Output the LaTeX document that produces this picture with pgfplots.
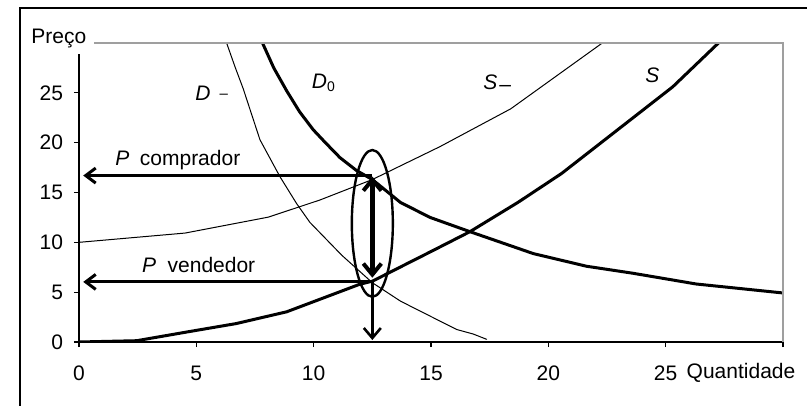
\documentclass[border=0pt]{standalone}
\usepackage{pgfplots}
\pgfplotsset{compat=1.18}
\usetikzlibrary{arrows.meta}
\usepackage{fontspec}
\setmainfont{Liberation Sans}

% Supply and demand schedules (Quantidade, Preco)
\pgfplotstableread{
q p
0 0
2.46 0.13
4.66 1.03
6.7 1.85
8.85 3.03
11.97 5.80
12.5 6.10
14.96 9.03
16.66 11.07
18.7 14.0
20.56 16.9
25.3 25.6
27.25 30.0
}\supplyS
\pgfplotstableread{
q p
0 10
4.52 10.93
8.07 12.53
10.27 14.25
12.5 16.3
15.38 19.6
18.4 23.4
22.3 30.0
}\supplyMinus
\pgfplotstableread{
q p
7.82 30.0
8.3 27.5
8.85 25.2
9.4 23.1
9.98 21.3
10.5 20.0
11.12 18.5
11.83 17.2
12.5 16.3
13.7 14.0
14.96 12.5
16.66 11.07
19.36 8.87
21.63 7.6
23.6 6.9
26.3 5.82
30 4.92
}\demandZero
\pgfplotstableread{
q p
6.29 30.0
6.65 27.6
7.0 25.4
7.71 20.3
8.56 16.6
9.27 13.9
9.84 12.0
11.2 8.7
12.5 5.95
13.7 4.1
14.96 2.6
16.1 1.25
16.8 0.8
17.37 0.27
}\demandMinus

\begin{document}
\begin{tikzpicture}
% canvas in pixel-like units
\begin{scope}[x=0.5pt,y=-0.5pt]
  \useasboundingbox (0,0) rectangle (807,406);
  \draw[black, line width=0.8pt] (20,406) -- (20,8) -- (807,8);
\end{scope}

\begin{axis}[
  name=ax,
  at={(39.5pt,-171pt)}, anchor=south west,
  scale only axis, width=352pt, height=149.5pt,
  xmin=0, xmax=30, ymin=0, ymax=30,
  axis x line*=bottom, axis y line*=left,
  axis line style={black, line width=0.6pt},
  tick align=outside, major tick length=2.5pt,
  tick style={black, line width=0.6pt},
  xtick={0,5,...,30}, xticklabels={0,5,10,15,20,25,{}},
  ytick={0,5,...,25}, yticklabels={0,5,10,15,20,25},
  xticklabel style={yshift=-6pt, font=\fontsize{10.5}{12}\selectfont},
  yticklabel style={xshift=-2pt, font=\fontsize{10.5}{12}\selectfont},
  every axis plot/.append style={line join=round, line cap=round},
]
  \addplot[black, line width=0.5pt] table[x=q,y=p] {\supplyMinus};
  \addplot[black, line width=0.5pt] table[x=q,y=p] {\demandMinus};
  \addplot[black, line width=1.5pt] table[x=q,y=p] {\supplyS};
  \addplot[black, line width=1.5pt] table[x=q,y=p] {\demandZero};

  % price wedge
  \addplot[black, line width=1.5pt, line cap=butt,
    -{Straight Barb[length=5pt,width=7.5pt,line width=1.5pt]}]
    coordinates {(12.5,16.7) (0.18,16.7)};
  \addplot[black, line width=1.5pt, line cap=butt,
    -{Straight Barb[length=5pt,width=7.5pt,line width=1.5pt]}]
    coordinates {(12.5,6.03) (0.18,6.03)};
  \addplot[black, line width=2.2pt, line cap=butt,
    {Straight Barb[length=5.5pt,width=9pt,line width=2pt]}-{Straight Barb[length=5.5pt,width=9pt,line width=2pt]}]
    coordinates {(12.5,16.6) (12.5,6.45)};
  \addplot[black, line width=1.4pt, line cap=butt,
    -{Straight Barb[length=5pt,width=8.5pt,line width=1.3pt]}]
    coordinates {(12.5,6.03) (12.5,0.2)};
  \draw[black, line width=1.2pt] (axis cs:12.5,11.9) ellipse [x radius=10.25pt, y radius=36.7pt];
\end{axis}

\draw[gray!75, line width=0.6pt] (ax.north west) -- (ax.north east) -- (ax.south east);

\begin{scope}[x=0.5pt,y=-0.5pt, every node/.style={inner sep=0pt, font=\fontsize{10.5}{12}\selectfont}]
  \fill[white] (24,20) rectangle (94,54.5);
  \node[anchor=base west] at (31,44) {Preço};
  \node[anchor=base] at (741,378) {Quantidade};
  \node[anchor=base west] at (115,166) {\itshape P\upshape\hspace{0.5em}comprador};
  \node[anchor=base west] at (141.7,272.7) {\itshape P\upshape\hspace{0.55em}vendedor};
  \node[anchor=base west] at (195,101) {\itshape D\upshape\hspace{4.5pt}\raisebox{1.4pt}{\fontsize{7.5}{8}\selectfont –}};
  \node[anchor=base west] at (311.5,88.5) {\itshape D\upshape\raisebox{-1.7pt}{\fontsize{7}{7}\selectfont 0}};
  \node[anchor=base west] at (483,89.5) {\itshape S\upshape\hspace{1pt}\raisebox{-0.9pt}{–}};
  \node[anchor=base west] at (645,83) {\itshape S};
\end{scope}
\end{tikzpicture}
\end{document}
